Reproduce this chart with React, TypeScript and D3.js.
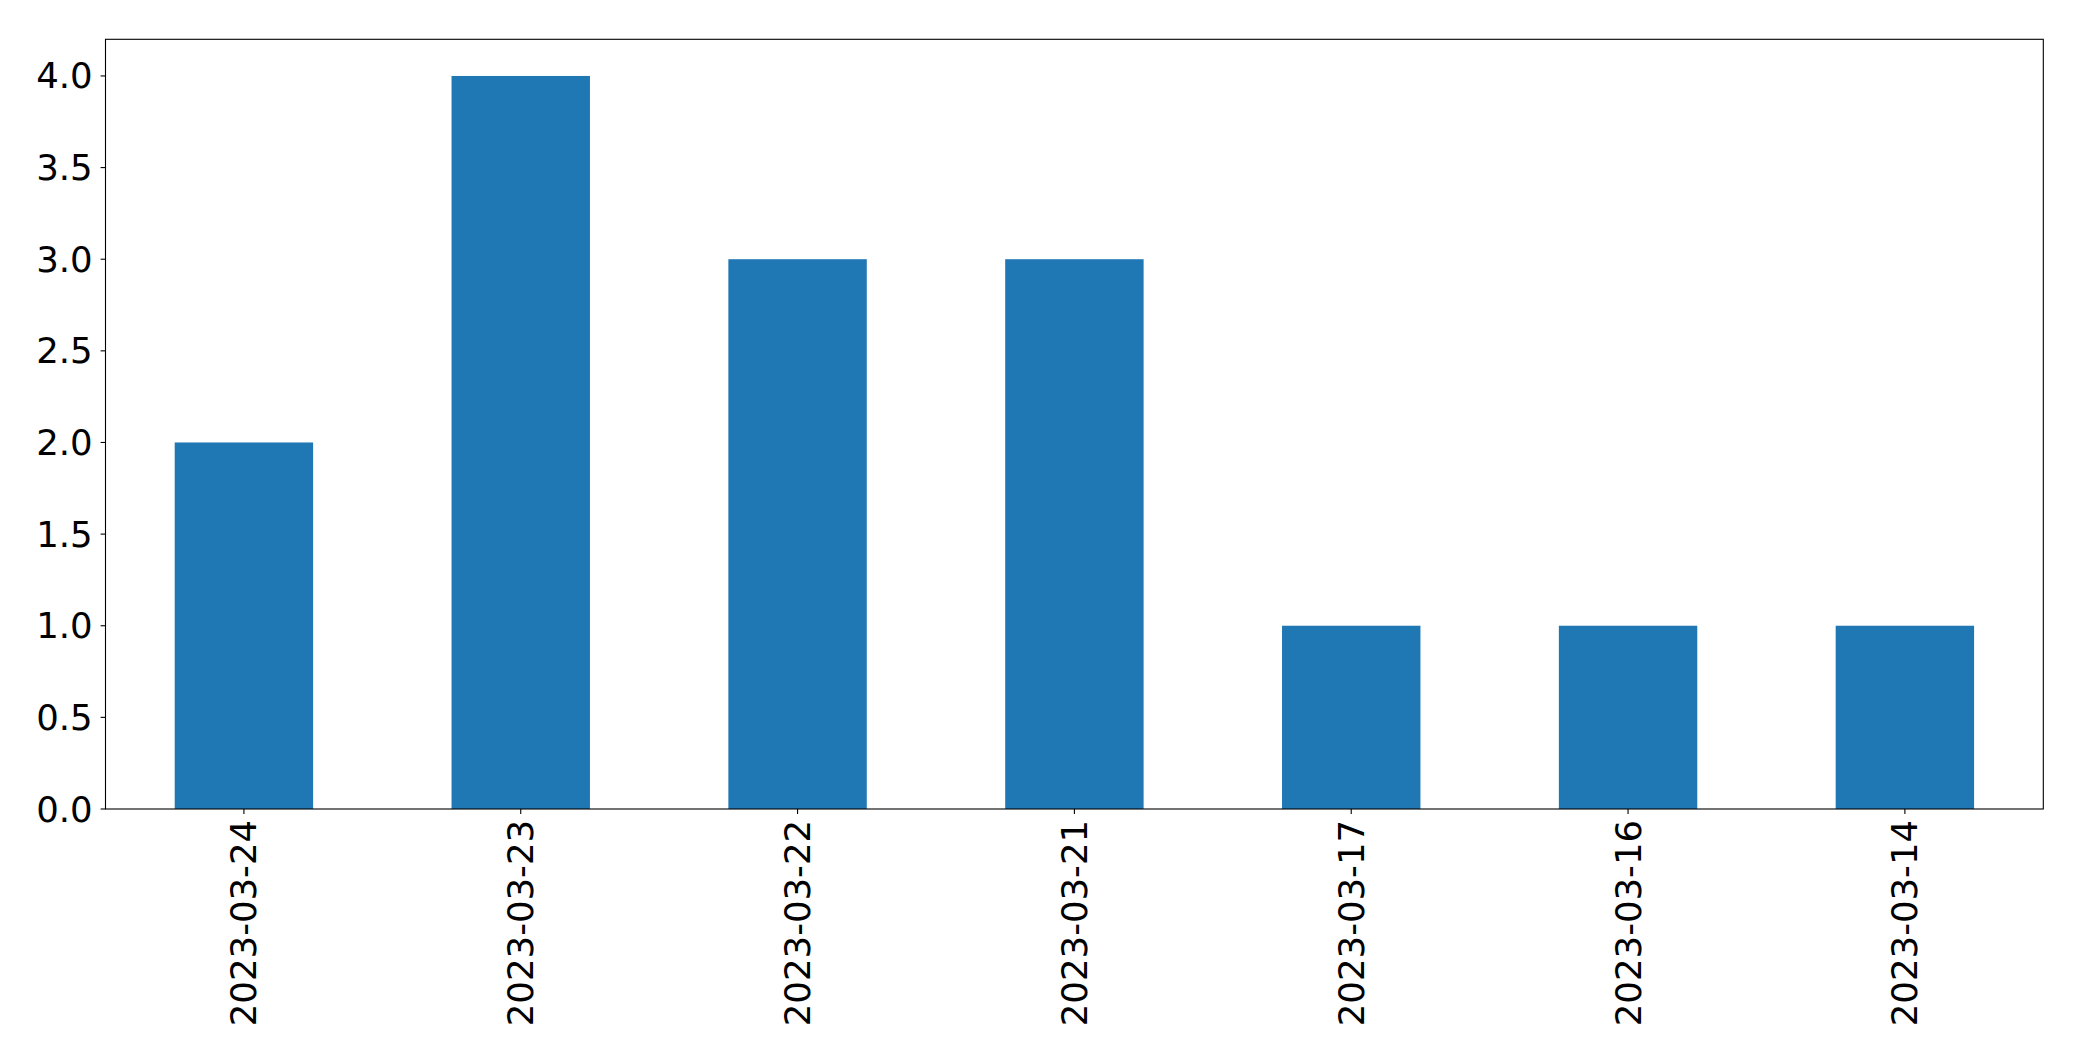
import React from "react";
import * as d3 from "d3";

const categories = ["2023-03-24", "2023-03-23", "2023-03-22", "2023-03-21", "2023-03-17", "2023-03-16", "2023-03-14"];
const values = [2, 4, 3, 3, 1, 1, 1];
const yTicks = [0, 0.5, 1, 1.5, 2, 2.5, 3, 3.5, 4];

const W = 2082;
const H = 1061;
const left = 105.5;
const right = 2043.3;
const top = 39.3;
const bottom = 809;
const FONT = "'DejaVu Sans', sans-serif";
const FS = 35.5;
const TICK = 4.9;

export default function App() {
  const x = d3.scaleLinear().domain([-0.5, categories.length - 0.5]).range([left, right]);
  const y = d3.scaleLinear().domain([0, 4.2]).range([bottom, top]);
  const bw = x(0.25) - x(-0.25);
  return (
    <svg width={W} height={H} style={{ position: "absolute", left: 0, top: 0, background: "#fff" }} fontFamily={FONT}>
      <rect x={0} y={0} width={W} height={H} fill="#fff" />
      {values.map((v, i) => (
        <rect key={i} x={x(i) - bw / 2} y={y(v)} width={bw} height={y(0) - y(v)} fill="#1f77b4" />
      ))}
      <rect x={left} y={top} width={right - left} height={bottom - top} fill="none" stroke="#000" strokeWidth={1.1} />
      {yTicks.map((t) => (
        <g key={t} transform={`translate(0,${y(t)})`}>
          <line x1={left - TICK} x2={left} stroke="#000" strokeWidth={1.1} />
          <text x={left - TICK - 8} textAnchor="end" dominantBaseline="central" fontSize={FS} fill="#000">
            {d3.format(".1f")(t)}
          </text>
        </g>
      ))}
      {categories.map((c, i) => (
        <g key={c} transform={`translate(${x(i)},0)`}>
          <line y1={bottom} y2={bottom + TICK} stroke="#000" strokeWidth={1.1} />
          <text
            transform={`translate(0,${bottom + TICK + 6}) rotate(-90)`}
            textAnchor="end"
            dominantBaseline="central"
            fontSize={FS}
            fill="#000"
          >
            {c}
          </text>
        </g>
      ))}
    </svg>
  );
}
